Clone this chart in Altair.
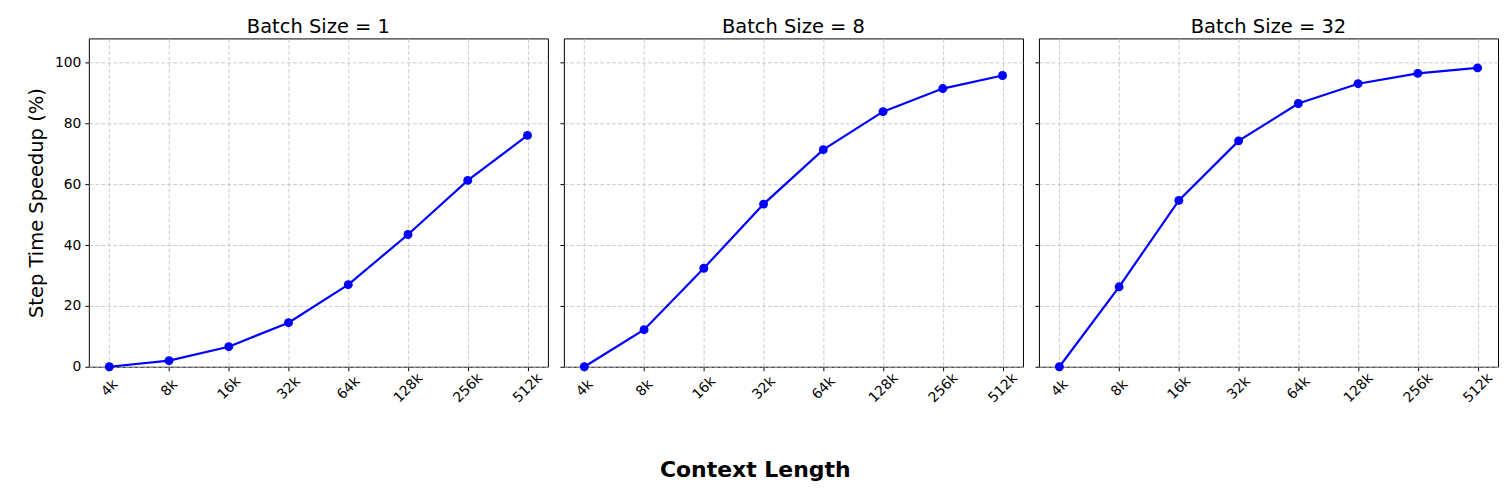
import altair as alt
import pandas as pd

contexts = ["4k", "8k", "16k", "32k", "64k", "128k", "256k", "512k"]
batch_sizes = [1, 8, 32]
speedup_bs1 = [0.0, 2.0, 6.6, 14.5, 27.0, 43.5, 61.3, 76.1]
speedup_bs8 = [0.0, 12.2, 32.4, 53.5, 71.4, 83.9, 91.5, 95.8]
speedup_bs32 = [0.0, 26.3, 54.7, 74.3, 86.6, 93.1, 96.5, 98.3]
y_ticks = [0, 20, 40, 60, 80, 100]

FONT = "DejaVu Sans"
BLUE = "#0000ff"


def panel(values, bs, first):
    df = pd.DataFrame({"ctx": contexts, "speedup": values})
    x = alt.X(
        "ctx:N",
        sort=contexts,
        scale=alt.Scale(type="point", padding=0.342),
        axis=alt.Axis(
            title=None,
            labelAngle=315,
            labelAlign="center",
            labelBaseline="middle",
            labelPadding=17,
            labelFont=FONT,
            labelFontSize=13.9,
            labelColor="black",
            tickColor="black",
            tickSize=4,
            domain=False,
            grid=True,
            gridColor="#c0c0c0",
            gridDash=[4, 2],
            gridWidth=0.8,
        ),
    )
    y = alt.Y(
        "speedup:Q",
        scale=alt.Scale(domain=[0, 108], nice=False, zero=True),
        axis=alt.Axis(
            values=y_ticks,
            title="Step Time Speedup (%)" if first else None,
            titleFont=FONT,
            titleFontSize=19.5,
            titleFontWeight="normal",
            titleColor="black",
            titlePadding=8,
            labels=first,
            labelFont=FONT,
            labelFontSize=13.9,
            labelColor="black",
            labelPadding=4,
            tickColor="black",
            tickSize=4,
            domain=False,
            grid=True,
            gridColor="#c0c0c0",
            gridDash=[4, 2],
            gridWidth=0.8,
        ),
    )
    base = alt.Chart(df).encode(x=x, y=y)
    line = base.mark_line(color=BLUE, strokeWidth=2.2)
    pts = base.mark_circle(color=BLUE, size=80, opacity=1)
    return (line + pts).properties(
        width=460,
        height=329,
        view=alt.ViewBackground(stroke="black", strokeWidth=1),
        title=alt.TitleParams(
            f"Batch Size = {bs}",
            font=FONT,
            fontSize=19.5,
            fontWeight="normal",
            color="black",
            offset=1,
        ),
    )


panels = [
    panel(speedup_bs1, batch_sizes[0], True),
    panel(speedup_bs8, batch_sizes[1], False),
    panel(speedup_bs32, batch_sizes[2], False),
]

chart = (
    alt.hconcat(*panels, spacing=10)
    .properties(
        padding={"left": 17, "top": 8, "right": 5, "bottom": 5},
        title=alt.TitleParams(
            "Context Length",
            orient="bottom",
            anchor="middle",
            font=FONT,
            fontSize=22,
            fontWeight="bold",
            color="black",
            offset=55,
            dx=-7,
        ),
    )
    .configure_view(stroke="black", strokeWidth=1)
    .configure(background="white")
)

chart.save("out.html", embed_options={"renderer": "svg", "actions": False})
